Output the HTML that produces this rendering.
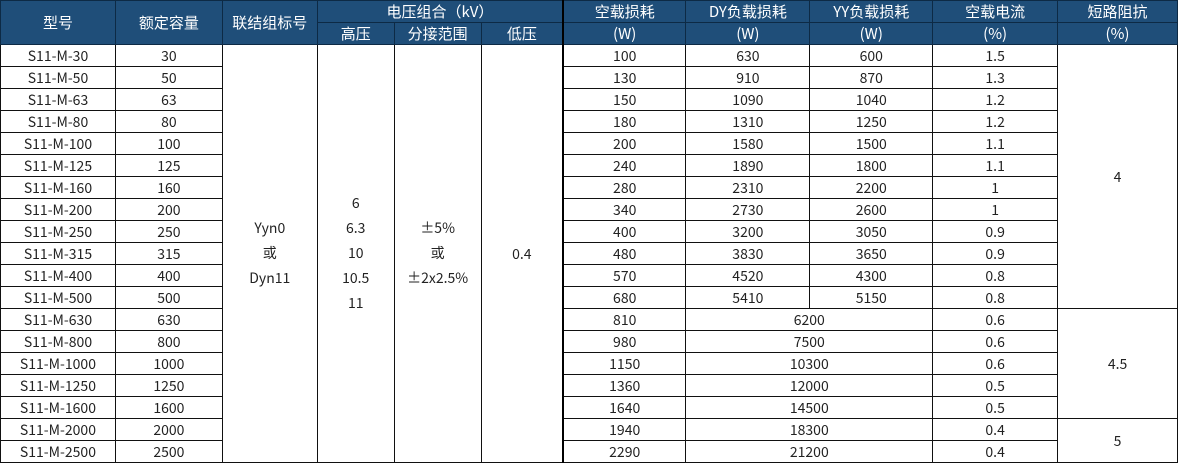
<!DOCTYPE html>
<html><head><meta charset="utf-8"><style>
body{margin:0;width:1178px;height:463px;background:#fff;overflow:hidden}
table{border-collapse:collapse;table-layout:fixed;font-family:"Noto Sans CJK SC","Liberation Sans",sans-serif;font-size:14px;color:#222;position:absolute;left:0;top:0}
td,th{border:1px solid #111;text-align:center;padding:0;line-height:20px;height:22px;overflow:hidden;white-space:nowrap;box-sizing:border-box}
th{background:#1f4e79;color:#fff;font-weight:normal;border-color:#0d2a45;font-size:15px}
.sep{border-left:2px solid #000}
.ml{line-height:25px}
</style></head><body>
<table>
<colgroup><col style="width:115px"><col style="width:107px"><col style="width:95px"><col style="width:77px"><col style="width:87px"><col style="width:82px"><col style="width:123px"><col style="width:124px"><col style="width:123px"><col style="width:125px"><col style="width:120px"></colgroup>
<tr><th rowspan="2">型号</th><th rowspan="2">额定容量</th><th rowspan="2">联结组标号</th><th colspan="3">电压组合（kV）</th><th class="sep">空载损耗</th><th>DY负载损耗</th><th>YY负载损耗</th><th>空载电流</th><th>短路阻抗</th></tr>
<tr><th>高压</th><th>分接范围</th><th>低压</th><th class="sep">(W)</th><th>(W)</th><th>(W)</th><th>(%)</th><th>(%)</th></tr>
<tr><td>S11-M-30</td><td>30</td><td rowspan="19" class="ml">Yyn0<br>或<br>Dyn11</td><td rowspan="19" class="ml">6<br>6.3<br>10<br>10.5<br>11</td><td rowspan="19" class="ml">±5%<br>或<br>±2x2.5%</td><td rowspan="19">0.4</td><td class="sep">100</td><td>630</td><td>600</td><td>1.5</td><td rowspan="12">4</td></tr>
<tr><td>S11-M-50</td><td>50</td><td class="sep">130</td><td>910</td><td>870</td><td>1.3</td></tr>
<tr><td>S11-M-63</td><td>63</td><td class="sep">150</td><td>1090</td><td>1040</td><td>1.2</td></tr>
<tr><td>S11-M-80</td><td>80</td><td class="sep">180</td><td>1310</td><td>1250</td><td>1.2</td></tr>
<tr><td>S11-M-100</td><td>100</td><td class="sep">200</td><td>1580</td><td>1500</td><td>1.1</td></tr>
<tr><td>S11-M-125</td><td>125</td><td class="sep">240</td><td>1890</td><td>1800</td><td>1.1</td></tr>
<tr><td>S11-M-160</td><td>160</td><td class="sep">280</td><td>2310</td><td>2200</td><td>1</td></tr>
<tr><td>S11-M-200</td><td>200</td><td class="sep">340</td><td>2730</td><td>2600</td><td>1</td></tr>
<tr><td>S11-M-250</td><td>250</td><td class="sep">400</td><td>3200</td><td>3050</td><td>0.9</td></tr>
<tr><td>S11-M-315</td><td>315</td><td class="sep">480</td><td>3830</td><td>3650</td><td>0.9</td></tr>
<tr><td>S11-M-400</td><td>400</td><td class="sep">570</td><td>4520</td><td>4300</td><td>0.8</td></tr>
<tr><td>S11-M-500</td><td>500</td><td class="sep">680</td><td>5410</td><td>5150</td><td>0.8</td></tr>
<tr><td>S11-M-630</td><td>630</td><td class="sep">810</td><td colspan="2">6200</td><td>0.6</td><td rowspan="5">4.5</td></tr>
<tr><td>S11-M-800</td><td>800</td><td class="sep">980</td><td colspan="2">7500</td><td>0.6</td></tr>
<tr><td>S11-M-1000</td><td>1000</td><td class="sep">1150</td><td colspan="2">10300</td><td>0.6</td></tr>
<tr><td>S11-M-1250</td><td>1250</td><td class="sep">1360</td><td colspan="2">12000</td><td>0.5</td></tr>
<tr><td>S11-M-1600</td><td>1600</td><td class="sep">1640</td><td colspan="2">14500</td><td>0.5</td></tr>
<tr><td>S11-M-2000</td><td>2000</td><td class="sep">1940</td><td colspan="2">18300</td><td>0.4</td><td rowspan="2">5</td></tr>
<tr><td>S11-M-2500</td><td>2500</td><td class="sep">2290</td><td colspan="2">21200</td><td>0.4</td></tr>
</table>
</body></html>
